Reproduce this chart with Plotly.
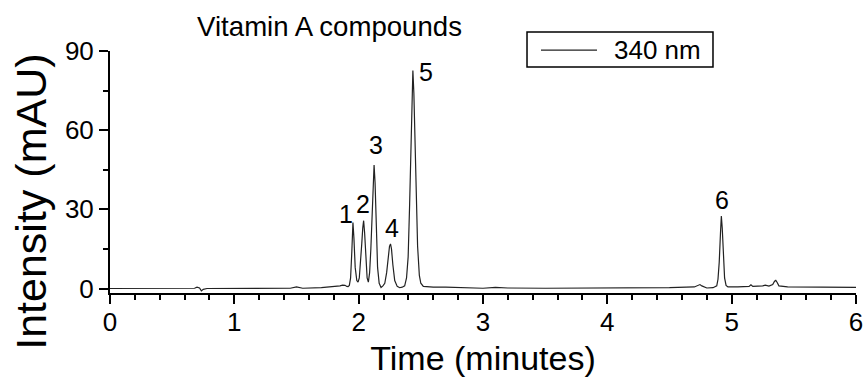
import plotly.graph_objects as go

# Chromatogram trace (time in minutes, intensity in mAU)
time_min = [
    0.00, 0.30, 0.60, 0.68, 0.70, 0.72, 0.735, 0.75, 0.78, 1.00, 1.45, 1.50, 1.55,
    1.70, 1.80, 1.85, 1.87, 1.89, 1.905, 1.915,
    1.925, 1.935, 1.945, 1.954, 1.962, 1.972, 1.985, 1.995,
    2.005, 2.015, 2.025, 2.033, 2.040, 2.048, 2.058, 2.068, 2.078,
    2.088, 2.098, 2.108, 2.117, 2.124, 2.132, 2.142, 2.152, 2.165, 2.180, 2.195,
    2.210, 2.225, 2.238, 2.248, 2.256, 2.264, 2.275, 2.290, 2.310, 2.330, 2.350,
    2.370, 2.385, 2.398, 2.410, 2.420, 2.428, 2.436, 2.444, 2.452, 2.462, 2.474,
    2.488, 2.500, 2.520, 2.600, 2.700, 2.800, 3.000, 3.100, 3.200, 3.500, 4.000,
    4.300, 4.500, 4.700, 4.730, 4.745, 4.760, 4.800, 4.850,
    4.880, 4.890, 4.900, 4.910, 4.917, 4.924, 4.933, 4.943, 4.955, 4.970,
    5.050, 5.140, 5.155, 5.170, 5.250, 5.270, 5.300, 5.330, 5.345, 5.355, 5.365,
    5.380, 5.450, 5.700, 6.000,
]
intensity_mau = [
    0.0, 0.0, 0.0, 0.1, 0.5, 0.2, -0.9, -0.3, 0.0, 0.0, 0.1, 0.6, 0.1,
    0.3, 0.6, 1.0, 1.3, 1.2, 0.8, 0.7,
    1.2, 4.0, 14.0, 25.0, 19.0, 8.0, 3.0, 2.4,
    4.0, 9.0, 17.0, 23.0, 25.7, 21.0, 10.0, 4.0, 2.4,
    6.0, 15.0, 30.0, 43.0, 46.8, 40.0, 22.0, 8.0, 2.0, 0.4, 1.0,
    2.0, 6.0, 12.0, 16.0, 16.9, 15.0, 9.0, 3.0, 0.8, 0.3, 0.5,
    1.0, 4.0, 12.0, 32.0, 55.0, 73.0, 82.6, 74.0, 58.0, 36.0, 16.0,
    5.0, 2.0, 0.8, 0.5, 0.5, 0.3, 0.1, 0.4, 0.2, 0.1, 0.2,
    0.1, 0.3, 0.6, 1.2, 1.5, 1.0, 0.2, 0.3,
    1.0, 3.5, 10.0, 21.0, 27.5, 23.0, 12.0, 4.0, 1.2, 0.6,
    0.6, 0.8, 1.4, 0.8, 1.0, 1.3, 0.9, 1.5, 2.8, 3.1, 2.4,
    1.0, 0.6, 0.5, 0.4,
]

series_name = "340 nm"
peak_labels = ["1", "2", "3", "4", "5", "6"]
peak_label_x = [1.898, 2.033, 2.140, 2.268, 2.542, 4.920]
peak_label_y = [28.4, 32.1, 54.5, 23.1, 81.9, 33.6]

x_range = [0, 6]
y_range = [-1.7, 90]
x_ticks = [0, 1, 2, 3, 4, 5, 6]
y_ticks = [0, 30, 60, 90]

FONT = "Liberation Sans, Arial, sans-serif"
LINE_COLOR = "#222222"

fig = go.Figure()
fig.add_trace(go.Scatter(
    x=time_min, y=intensity_mau, mode="lines", name=series_name,
    line=dict(color=LINE_COLOR, width=1.2), showlegend=False,
))

for lab, lx, ly in zip(peak_labels, peak_label_x, peak_label_y):
    fig.add_annotation(x=lx, y=ly, text=lab, showarrow=False,
                       font=dict(family=FONT, size=25, color="black"),
                       xanchor="center", yanchor="middle")

# Legend box (drawn in paper coordinates)
fig.add_shape(type="rect", xref="paper", yref="paper", x0=0.559, x1=0.8083, y0=0.934, y1=1.078,
              line=dict(color="black", width=1.5), fillcolor="white", layer="above")
fig.add_shape(type="line", xref="paper", yref="paper", x0=0.5777, x1=0.6528, y0=1.0033, y1=1.0033,
              line=dict(color=LINE_COLOR, width=1.2), layer="above")
fig.add_annotation(xref="paper", yref="paper", x=0.673, y=1.004, text=series_name, showarrow=False,
                   xanchor="left", yanchor="middle",
                   font=dict(family=FONT, size=26, color="black"))

# Y axis title (placed slightly below the axis centre, as in the reference)
fig.add_annotation(xref="paper", yref="paper", x=-0.1059, y=0.377, text="Intensity (mAU)",
                   textangle=-90, showarrow=False, xanchor="center", yanchor="middle",
                   font=dict(family=FONT, size=43, color="black"))

fig.update_layout(
    width=864, height=378,
    margin=dict(l=110, r=8, t=51, b=84.5),
    paper_bgcolor="white", plot_bgcolor="white",
    font=dict(family=FONT, color="black"),
    title=dict(text="Vitamin A compounds", x=0.3814, xanchor="center",
               y=0.931, yanchor="middle", xref="container", yref="container",
               font=dict(family=FONT, size=27.6, color="black")),
    showlegend=False,
)

fig.update_xaxes(
    range=x_range, tickvals=x_ticks, ticktext=[str(v) for v in x_ticks],
    automargin=False,
    showgrid=False, zeroline=False, showline=True, linecolor="black", linewidth=2,
    ticks="outside", ticklen=9, tickwidth=2, tickcolor="black",
    tickfont=dict(family=FONT, size=26, color="black"), ticklabelstandoff=-4,
    minor=dict(dtick=0.2, ticks="outside", ticklen=5, tickwidth=1.5, tickcolor="black"),
    title=dict(text="Time (minutes)", font=dict(family=FONT, size=34, color="black"), standoff=10),
)
fig.update_yaxes(
    range=y_range, tickvals=y_ticks, ticktext=[str(v) for v in y_ticks],
    automargin=False,
    showgrid=False, zeroline=False, showline=True, linecolor="black", linewidth=2,
    ticks="outside", ticklen=9, tickwidth=2, tickcolor="black",
    tickfont=dict(family=FONT, size=26, color="black"),
    minor=dict(dtick=15, ticks="outside", ticklen=5, tickwidth=1.5, tickcolor="black"),
)

fig.write_html(
    "out.html",
    config={"displayModeBar": False},
    post_script="document.body.style.margin='0';document.body.style.overflow='hidden';",
)
